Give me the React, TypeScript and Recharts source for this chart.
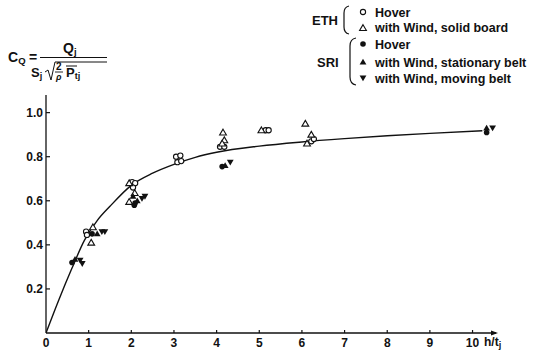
import React from 'react';
import { ComposedChart, Line, Scatter, XAxis, YAxis, ReferenceDot } from 'recharts';

// discharge coefficient C_Q against ground distance h/t_j
const X_TICKS = [0, 1, 2, 3, 4, 5, 6, 7, 8, 9, 10];
const Y_TICKS = [0.2, 0.4, 0.6, 0.8, 1.0];

// faired curve through the measurements
const CURVE_X = [0, 0.3, 0.6, 0.9, 1.2, 1.5, 2.0, 2.5, 3.0, 3.5, 4.0, 5.0, 6.0, 7.0, 8.0, 9.0, 10.23];
const CURVE_Y = [0, 0.15, 0.29, 0.42, 0.51, 0.575, 0.67, 0.725, 0.765, 0.797, 0.82, 0.848, 0.867, 0.882, 0.895, 0.906, 0.918];

// ETH, hover (open circles)
const ETH_HOVER: [number, number][] = [
  [0.94, 0.46], [0.96, 0.445],
  [2.02, 0.685], [2.09, 0.68], [2.04, 0.66],
  [3.05, 0.8], [3.15, 0.805], [3.08, 0.775], [3.17, 0.78],
  [4.08, 0.845], [4.18, 0.845],
  [5.15, 0.92], [5.22, 0.92],
  [6.22, 0.87], [6.28, 0.88],
];
// ETH, with wind, solid board (open triangles)
const ETH_WIND: [number, number][] = [
  [1.1, 0.48], [1.06, 0.41],
  [1.95, 0.68], [2.08, 0.635], [1.95, 0.595],
  [4.15, 0.91], [4.18, 0.875], [4.13, 0.86],
  [5.05, 0.92],
  [6.08, 0.95], [6.22, 0.9], [6.12, 0.86],
];
// SRI, hover (filled circles)
const SRI_HOVER: [number, number][] = [
  [0.61, 0.32], [1.08, 0.45], [2.07, 0.58], [2.09, 0.59], [4.13, 0.755], [10.33, 0.91],
];
// SRI, with wind, stationary belt (filled triangles)
const SRI_STATIONARY: [number, number][] = [
  [0.68, 0.335], [1.2, 0.45], [2.04, 0.62], [2.14, 0.6], [4.2, 0.76], [10.33, 0.93],
];
// SRI, with wind, moving belt (filled inverted triangles)
const SRI_MOVING: [number, number][] = [
  [0.8, 0.33], [0.85, 0.315], [1.31, 0.46], [1.38, 0.46], [2.25, 0.61], [2.32, 0.62], [4.32, 0.775], [10.47, 0.93],
];

const toPts = (arr: [number, number][]) => arr.map(([x, y]) => ({ x, y }));
const curve = CURVE_X.map((x, i) => ({ x, y: CURVE_Y[i] }));

const FONT = '"Liberation Sans", Arial, sans-serif';
const INK = '#111';

const OpenCircle = (p: any) => (
  <circle cx={p.cx} cy={p.cy} r={2.6} fill="#fff" stroke={INK} strokeWidth={1.1} />
);
const FilledCircle = (p: any) => <circle cx={p.cx} cy={p.cy} r={2.8} fill={INK} />;
const triPath = (cx: number, cy: number, down = false) => {
  const s = down ? -1 : 1;
  return `M${cx},${cy - 3.3 * s} L${cx + 3.4},${cy + 2.5 * s} L${cx - 3.4},${cy + 2.5 * s} Z`;
};
const OpenTri = (p: any) => (
  <path d={triPath(p.cx, p.cy)} fill="#fff" stroke={INK} strokeWidth={1.1} />
);
const UpTri = (p: any) => <path d={triPath(p.cx, p.cy)} fill={INK} />;
const DownTri = (p: any) => <path d={triPath(p.cx, p.cy, true)} fill={INK} />;

const AXIS_Y = 333;

const XTick = (p: any) => {
  const { x, payload } = p;
  return (
    <g>
      {payload.value !== 0 && <line x1={x} x2={x} y1={AXIS_Y} y2={AXIS_Y - 3} stroke={INK} strokeWidth={1.2} />}
      <text x={x} y={AXIS_Y + 14} textAnchor="middle" fontFamily={FONT} fontSize={12} fontWeight="bold" fill={INK}>
        {payload.value}
      </text>
    </g>
  );
};

const YTick = (p: any) => {
  const { y, payload } = p;
  return (
    <g>
      <line x1={46} x2={50} y1={y} y2={y} stroke={INK} strokeWidth={1.2} />
      <text x={43} y={y + 4.5} textAnchor="end" fontFamily={FONT} fontSize={12} fontWeight="bold" fill={INK}>
        {payload.value.toFixed(1)}
      </text>
    </g>
  );
};

const Arrow = (p: any) => (
  <path d={`M${p.cx + 2},${p.cy} L${p.cx - 5},${p.cy - 2.5} L${p.cx - 5},${p.cy + 2.5} Z`} fill={INK} />
);

const txt = { fontFamily: FONT, fontSize: 12.5, fontWeight: 'bold' as const, fill: INK };

const Legend = () => (
  <g>
    <text x={312} y={25} {...txt} fontSize={13}>ETH</text>
    <path d="M349,6 Q344,7 344,13 L344,27 Q344,33 349,34" fill="none" stroke={INK} strokeWidth={1.2} />
    <circle cx={363} cy={12} r={2.6} fill="#fff" stroke={INK} strokeWidth={1.1} />
    <text x={375} y={16.5} {...txt}>Hover</text>
    <path d={triPath(363, 28)} fill="#fff" stroke={INK} strokeWidth={1.1} />
    <text x={375} y={32} {...txt}>with Wind, solid board</text>

    <text x={317} y={67} {...txt} fontSize={13}>SRI</text>
    <path d="M356,38 Q350,39 350,46 L350,77 Q350,84 356,85" fill="none" stroke={INK} strokeWidth={1.2} />
    <circle cx={363} cy={44} r={2.8} fill={INK} />
    <text x={375} y={48.5} {...txt}>Hover</text>
    <path d={triPath(363, 62)} fill={INK} />
    <text x={375} y={66.5} {...txt}>with Wind, stationary belt</text>
    <path d={triPath(363, 78, true)} fill={INK} />
    <text x={375} y={82.5} {...txt}>with Wind, moving belt</text>
  </g>
);

const Formula = () => (
  <g fontFamily={FONT} fontWeight="bold" fill={INK}>
    <text x={8} y={62} fontSize={14}>C<tspan fontSize={9.5} dy={2}>Q</tspan></text>
    <text x={29} y={62} fontSize={14}>=</text>
    <line x1={40} x2={107} y1={57.5} y2={57.5} stroke={INK} strokeWidth={1.2} />
    <text x={63} y={53} fontSize={14}>Q<tspan fontSize={9.5} dy={2}>j</tspan></text>
    <text x={31} y={77} fontSize={13}>S<tspan fontSize={9} dy={2}>j</tspan></text>
    <path d="M45,72 L48,70 L51,80 L55,62 L107,62" fill="none" stroke={INK} strokeWidth={1} />
    <text x={56} y={70} fontSize={10}>2</text>
    <line x1={55} x2={63} y1={72} y2={72} stroke={INK} strokeWidth={0.9} />
    <text x={56} y={80} fontSize={9} fontStyle="italic">ρ</text>
    <line x1={66} x2={77} y1={66} y2={66} stroke={INK} strokeWidth={1} />
    <text x={66} y={77} fontSize={13}>P<tspan fontSize={9} dy={2}>tj</tspan></text>
  </g>
);

export default function App() {
  return (
    <div style={{ position: 'absolute', left: 0, top: 0, width: 540, height: 351, background: '#fff' }}>
      <ComposedChart width={540} height={351} margin={{ top: 95, right: 44, bottom: 0, left: 0 }}>
        <XAxis
          type="number"
          dataKey="x"
          domain={[0, 10.55]}
          ticks={X_TICKS}
          allowDataOverflow
          height={18}
          axisLine={{ stroke: INK, strokeWidth: 1.3 }}
          tickLine={false}
          tick={<XTick />}
          interval={0}
        />
        <YAxis
          type="number"
          dataKey="y"
          domain={[0, 1.08]}
          ticks={Y_TICKS}
          allowDataOverflow
          width={46}
          axisLine={{ stroke: INK, strokeWidth: 1.3 }}
          tickLine={false}
          tick={<YTick />}
          interval={0}
        />
        <Line
          data={curve}
          dataKey="y"
          type="monotone"
          stroke={INK}
          strokeWidth={1.4}
          dot={false}
          isAnimationActive={false}
        />
        <Scatter data={toPts(ETH_HOVER)} dataKey="y" shape={OpenCircle} isAnimationActive={false} />
        <Scatter data={toPts(ETH_WIND)} dataKey="y" shape={OpenTri} isAnimationActive={false} />
        <Scatter data={toPts(SRI_HOVER)} dataKey="y" shape={FilledCircle} isAnimationActive={false} />
        <Scatter data={toPts(SRI_STATIONARY)} dataKey="y" shape={UpTri} isAnimationActive={false} />
        <Scatter data={toPts(SRI_MOVING)} dataKey="y" shape={DownTri} isAnimationActive={false} />
        <ReferenceDot x={10.55} y={0} r={0} shape={Arrow} ifOverflow="visible" />
      </ComposedChart>
      <svg width={540} height={351} style={{ position: 'absolute', left: 0, top: 0, pointerEvents: 'none' }}>
        <Legend />
        <Formula />
        <text x={484} y={346} fontFamily={FONT} fontSize={12} fontWeight="bold" fill={INK}>
          h/t<tspan fontSize={9} dy={2}>j</tspan>
        </text>
      </svg>
    </div>
  );
}
